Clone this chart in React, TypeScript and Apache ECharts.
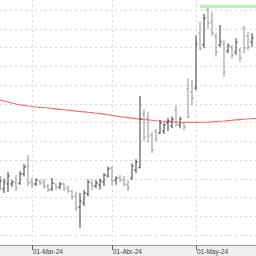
import React, { useEffect, useRef } from "react";
import * as echarts from "echarts";

const dates = [
  "2024-02-20","2024-02-21","2024-02-22","2024-02-23","2024-02-26","2024-02-27","2024-02-28","2024-02-29",
  "2024-03-01","2024-03-04","2024-03-05","2024-03-06","2024-03-07","2024-03-08","2024-03-11","2024-03-12",
  "2024-03-13","2024-03-14","2024-03-15","2024-03-18","2024-03-19","2024-03-20","2024-03-21","2024-03-22",
  "2024-03-25","2024-03-26","2024-03-27","2024-03-28",
  "2024-04-02","2024-04-03","2024-04-04","2024-04-05","2024-04-08","2024-04-09","2024-04-10","2024-04-11",
  "2024-04-12","2024-04-15","2024-04-16","2024-04-17","2024-04-18","2024-04-19","2024-04-22","2024-04-23",
  "2024-04-24","2024-04-25","2024-04-26","2024-04-29","2024-04-30",
  "2024-05-02","2024-05-03","2024-05-06","2024-05-07","2024-05-08","2024-05-09","2024-05-10","2024-05-13",
  "2024-05-14","2024-05-15","2024-05-16","2024-05-17","2024-05-20","2024-05-21","2024-05-22","2024-05-23",
];

const monthLabels: Record<string, string> = {
  "2024-03-01": "01-Mar-24",
  "2024-04-02": "01-Abr-24",
  "2024-05-02": "01-May-24",
};

const opens = [
  4.96,4.84,5.04,5.04,5.08,5.08,5.44,5.76,
  5.12,5.04,5.16,5.12,4.96,4.84,5.04,4.92,5.04,4.88,4.76,4.56,4.12,4.28,4.64,5.08,4.96,5.00,5.12,5.36,
  5.68,5.20,5.28,5.20,5.00,5.28,5.60,5.692,7.84,7.68,7.00,7.16,7.08,7.16,7.48,7.36,8.00,7.40,7.48,8.84,8.72,
  8.88,11.08,10.60,12.00,11.52,10.96,10.60,10.64,10.36,10.52,10.32,10.40,11.28,10.96,10.72,null,
];
const highs = [
  5.36,5.26,5.52,5.20,5.40,5.56,5.84,6.20,
  5.28,5.26,5.20,5.24,5.04,5.28,5.06,5.12,5.08,4.988,4.80,4.74,4.68,4.80,5.22,5.22,5.20,5.26,5.48,5.74,
  5.74,5.348,5.40,5.36,5.20,5.86,6.028,8.56,8.028,7.932,7.132,7.228,7.60,7.50,7.68,7.74,8.18,7.732,7.532,9.268,9.20,
  10.98,11.532,11.84,12.132,11.932,11.068,11.40,10.80,10.668,10.60,10.868,10.468,11.36,11.132,11.068,null,
];
const lows = [
  4.80,4.68,4.72,4.92,4.76,5.00,5.34,4.96,
  4.88,4.96,5.00,4.84,4.72,4.76,4.80,4.82,4.76,4.68,4.42,3.96,3.28,4.16,4.54,4.80,4.868,4.82,4.96,5.30,
  5.00,5.012,5.10,4.94,4.76,5.20,5.468,5.668,6.76,6.70,6.268,6.732,7.04,7.04,7.16,7.268,7.332,7.268,7.20,7.668,8.20,
  8.80,10.40,10.468,11.24,10.96,10.132,10.52,9.332,10.268,10.068,10.20,9.932,10.268,10.40,10.532,null,
];
const closes = [
  5.16,5.12,5.36,5.12,4.88,5.44,5.72,5.08,
  5.04,5.20,5.08,4.96,4.80,5.08,4.92,5.04,4.84,4.76,4.52,4.08,4.36,4.68,5.12,4.96,5.08,5.16,5.40,5.64,
  5.16,5.28,5.20,5.04,4.88,5.76,5.92,7.64,6.92,6.96,6.40,6.84,7.48,7.40,7.56,7.64,7.44,7.64,7.32,7.732,8.48,
  10.64,10.44,11.68,11.468,11.08,10.32,10.732,9.52,10.56,10.20,10.72,10.08,10.48,10.52,10.88,null,
];

const movingAverage = [
  8.40,8.36,8.32,8.28,8.24,8.208,8.184,8.16,
  8.14,8.12,8.104,8.092,8.08,8.064,8.044,8.024,8.012,7.996,7.976,7.956,7.94,7.924,7.908,7.896,7.872,7.856,7.836,7.812,
  7.784,7.76,7.736,7.716,7.696,7.676,7.656,7.636,7.62,7.604,7.588,7.572,7.56,7.548,7.536,7.528,7.52,7.512,7.508,7.504,7.504,
  7.504,7.508,7.512,7.516,7.524,7.536,7.548,7.56,7.576,7.592,7.604,7.616,7.628,7.64,7.652,7.664,
];

const periodHigh = 12.14;
const periodHighStart = "2024-05-03";
const periodHighEnd = "2024-05-23";

const UP_COLOR = "#4a4a4a";
const DOWN_COLOR = "#9c9c9c";

export default function App() {
  const ref = useRef<HTMLDivElement>(null);
  useEffect(() => {
    if (!ref.current) return;
    const chart = echarts.init(ref.current, null, { renderer: "svg" });
    const ohlc: any[] = [];
    for (let i = 0; i < dates.length; i++) {
      if (opens[i] == null) continue;
      ohlc.push([i, opens[i], closes[i], lows[i], highs[i]]);
    }
    const option: any = {
      animation: false,
      backgroundColor: "#ffffff",
      graphic: [
        {
          type: "rect",
          z: -10,
          shape: { x: 0, y: 245, width: 256, height: 11 },
          style: { fill: "#efefef" },
          silent: true,
        },
      ],
      grid: [
        { left: -2.385, right: -3.1, top: 0, bottom: 11 },
        { left: 0, right: 0, top: 10, bottom: 21 },
      ],
      xAxis: [
        {
          type: "category",
          gridIndex: 0,
          data: dates,
          boundaryGap: false,
          axisLine: { show: true, lineStyle: { color: "#9a9a9a", width: 1 } },
          axisTick: {
            show: true,
            length: 5,
            interval: (i: number, v: string) => !!monthLabels[v],
            lineStyle: { color: "#666" },
          },
          axisLabel: {
            show: true,
            interval: (i: number, v: string) => !!monthLabels[v],
            formatter: (v: string) => monthLabels[v] ?? "",
            align: "left",
            verticalAlign: "middle",
            margin: 6.5,
            padding: [0, 0, 0, 1],
            fontSize: 6.5,
            color: "#444",
            fontFamily: "Liberation Sans",
          },
          splitLine: {
            show: true,
            interval: (i: number, v: string) => !!monthLabels[v],
            lineStyle: { color: "#d9d9d9", type: [2, 3], width: 1 },
          },
        },
        { type: "value", gridIndex: 1, show: false, min: 0, max: 1 },
      ],
      yAxis: [
        { type: "value", gridIndex: 0, min: 2.6, max: 12.4, show: false },
        {
          type: "value",
          gridIndex: 1,
          min: 3,
          max: 12,
          interval: 0.75,
          axisLine: { show: false },
          axisTick: { show: false },
          axisLabel: { show: false },
          splitLine: { show: true, lineStyle: { color: "#d9d9d9", type: [2, 3], width: 1 } },
        },
      ],
      series: [
        {
          type: "line",
          xAxisIndex: 0,
          yAxisIndex: 0,
          data: movingAverage,
          showSymbol: false,
          symbol: "none",
          lineStyle: { color: "#ff6868", width: 1.1 },
          z: 2,
          silent: true,
        },
        {
          type: "custom",
          xAxisIndex: 0,
          yAxisIndex: 0,
          data: ohlc,
          z: 3,
          encode: { x: 0, y: [1, 2, 3, 4] },
          renderItem: (params: any, api: any) => {
            const idx = api.value(0);
            const o = api.coord([idx, api.value(1)]);
            const c = api.coord([idx, api.value(2)]);
            const l = api.coord([idx, api.value(3)]);
            const h = api.coord([idx, api.value(4)]);
            const up = api.value(2) >= api.value(1);
            const color = up ? UP_COLOR : DOWN_COLOR;
            const x = h[0];
            const style = { stroke: color, lineWidth: 1.1 };
            return {
              type: "group",
              children: [
                { type: "line", shape: { x1: x, y1: h[1], x2: x, y2: l[1] }, style },
                { type: "line", shape: { x1: x - 1.8, y1: o[1], x2: x, y2: o[1] }, style },
                { type: "line", shape: { x1: x, y1: c[1], x2: x + 1.8, y2: c[1] }, style },
              ],
            };
          },
          markLine: {
            silent: true,
            symbol: ["none", "none"],
            label: { show: false },
            lineStyle: { color: "#b9f2ae", width: 3, type: "solid" },
            data: [[{ coord: [periodHighStart, periodHigh] }, { coord: [periodHighEnd, periodHigh] }]],
          },
        },
      ],
    };
    chart.setOption(option);
    return () => chart.dispose();
  }, []);
  return (
    <div
      ref={ref}
      style={{ position: "fixed", left: 0, top: 0, width: 256, height: 256 }}
    />
  );
}
